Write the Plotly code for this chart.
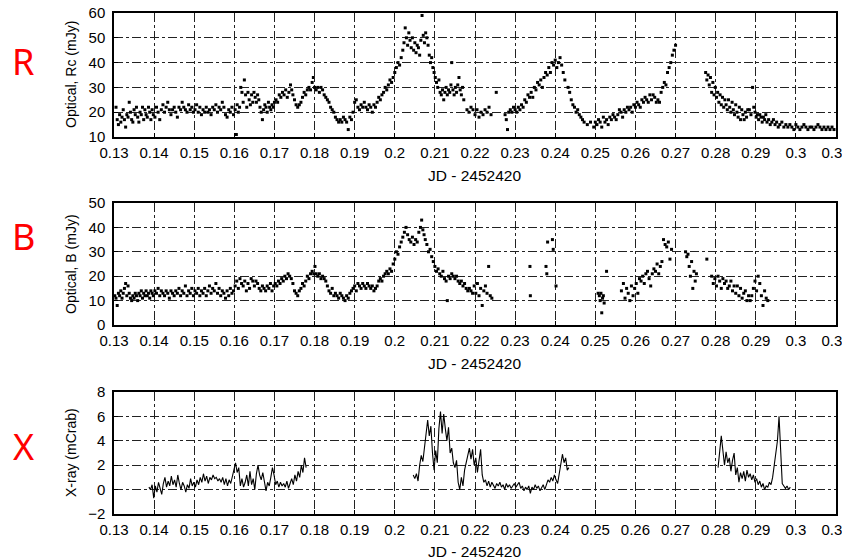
import plotly.graph_objects as go

# ---------------- data ----------------
jd_ticks = [0.13, 0.14, 0.15, 0.16, 0.17, 0.18, 0.19, 0.20, 0.21, 0.22,
            0.23, 0.24, 0.25, 0.26, 0.27, 0.28, 0.29, 0.30, 0.31]
jd_tick_labels = ["0.13", "0.14", "0.15", "0.16", "0.17", "0.18", "0.19", "0.2", "0.21", "0.22",
                  "0.23", "0.24", "0.25", "0.26", "0.27", "0.28", "0.29", "0.3", "0.31"]

r_jd = [0.1305, 0.1308, 0.1311, 0.1314, 0.1317, 0.1320, 0.1323, 0.1326, 0.1329, 0.1332, 0.1335, 0.1338,
        0.1341, 0.1344, 0.1347, 0.1350, 0.1353, 0.1356, 0.1359, 0.1362, 0.1365, 0.1368, 0.1371, 0.1374,
        0.1377, 0.1380, 0.1383, 0.1386, 0.1389, 0.1392, 0.1395, 0.1398,
        0.1402, 0.1406, 0.1410, 0.1414, 0.1418, 0.1422, 0.1426, 0.1430, 0.1434, 0.1438, 0.1442, 0.1446,
        0.1450, 0.1454, 0.1458, 0.1462, 0.1466, 0.1470, 0.1474, 0.1478, 0.1482, 0.1486, 0.1490, 0.1494, 0.1498,
        0.1502, 0.1506, 0.1510, 0.1514, 0.1518, 0.1522, 0.1526, 0.1530, 0.1534, 0.1538, 0.1542, 0.1546,
        0.1550, 0.1554, 0.1558, 0.1562, 0.1566, 0.1570, 0.1574, 0.1578, 0.1582, 0.1586, 0.1590, 0.1594, 0.1598,
        0.1602, 0.1605, 0.1607, 0.1610, 0.1613, 0.1616, 0.1619, 0.1622, 0.1625, 0.1628, 0.1631, 0.1634,
        0.1637, 0.1640, 0.1643, 0.1646, 0.1649, 0.1652, 0.1655, 0.1658, 0.1661, 0.1664, 0.1667, 0.1670,
        0.1673, 0.1676, 0.1679, 0.1682, 0.1685, 0.1688, 0.1691, 0.1694, 0.1697, 0.1700,
        0.1704, 0.1708, 0.1712, 0.1716, 0.1720, 0.1724, 0.1728, 0.1732, 0.1736, 0.1740, 0.1743, 0.1746,
        0.1750, 0.1754, 0.1758, 0.1762, 0.1766, 0.1770, 0.1774, 0.1778, 0.1782, 0.1786, 0.1790, 0.1794, 0.1797, 0.1800,
        0.1804, 0.1808, 0.1812, 0.1816, 0.1820, 0.1824, 0.1828, 0.1832, 0.1836, 0.1840, 0.1844, 0.1848,
        0.1852, 0.1856, 0.1860, 0.1864, 0.1868, 0.1872, 0.1876, 0.1880, 0.1884, 0.1888, 0.1892, 0.1896,
        0.1900, 0.1904, 0.1908, 0.1912, 0.1916, 0.1920, 0.1924, 0.1928, 0.1932, 0.1936, 0.1940, 0.1944,
        0.1948, 0.1952, 0.1956, 0.1960, 0.1964, 0.1968, 0.1972, 0.1976, 0.1980, 0.1984, 0.1988, 0.1992, 0.1996,
        0.2000, 0.2004, 0.2008, 0.2012, 0.2016, 0.2020, 0.2023, 0.2026, 0.2029, 0.2032, 0.2035, 0.2038,
        0.2041, 0.2044, 0.2047, 0.2050, 0.2053, 0.2056, 0.2059, 0.2062, 0.2065, 0.2068, 0.2071, 0.2074,
        0.2077, 0.2080, 0.2083, 0.2086, 0.2089, 0.2092, 0.2095, 0.2098,
        0.2101, 0.2104, 0.2107, 0.2110, 0.2113, 0.2116, 0.2119, 0.2122, 0.2125, 0.2128, 0.2131, 0.2134,
        0.2137, 0.2140, 0.2142, 0.2145, 0.2148, 0.2151, 0.2154, 0.2157, 0.2160, 0.2163, 0.2166, 0.2169, 0.2172,
        0.2180, 0.2185, 0.2190, 0.2195, 0.2200, 0.2205, 0.2210, 0.2215, 0.2220, 0.2225, 0.2230, 0.2235, 0.2240, 0.2253,
        0.2275, 0.2278, 0.2281, 0.2284, 0.2288, 0.2292, 0.2296, 0.2300, 0.2304, 0.2308, 0.2312, 0.2316,
        0.2320, 0.2324, 0.2328, 0.2332, 0.2336, 0.2340, 0.2344, 0.2348, 0.2352, 0.2356, 0.2360, 0.2364,
        0.2368, 0.2372, 0.2376, 0.2380, 0.2384, 0.2388, 0.2392, 0.2396, 0.2400, 0.2404, 0.2408, 0.2412,
        0.2416, 0.2420, 0.2424,
        0.2432, 0.2436, 0.2440, 0.2444, 0.2448, 0.2452, 0.2456, 0.2460, 0.2464, 0.2468, 0.2472, 0.2480,
        0.2488, 0.2496, 0.2500, 0.2504, 0.2508, 0.2512, 0.2516, 0.2520, 0.2524, 0.2528, 0.2532, 0.2536,
        0.2540, 0.2544, 0.2548, 0.2552, 0.2556, 0.2560, 0.2564, 0.2568, 0.2572, 0.2576, 0.2580, 0.2584,
        0.2588, 0.2592, 0.2596, 0.2600, 0.2604, 0.2608, 0.2612, 0.2616, 0.2620, 0.2624, 0.2628, 0.2632,
        0.2636, 0.2640, 0.2644, 0.2648, 0.2652, 0.2656, 0.2660, 0.2664, 0.2668, 0.2672, 0.2676, 0.2680,
        0.2684, 0.2688, 0.2692, 0.2696, 0.2700,
        0.2775, 0.2778, 0.2781, 0.2784, 0.2787, 0.2790, 0.2793, 0.2796, 0.2799, 0.2802, 0.2805, 0.2808,
        0.2811, 0.2814, 0.2817, 0.2820, 0.2823, 0.2826, 0.2829, 0.2832, 0.2835, 0.2838, 0.2841, 0.2844,
        0.2847, 0.2850, 0.2853, 0.2856, 0.2859, 0.2862, 0.2865, 0.2868, 0.2871, 0.2874, 0.2877, 0.2880,
        0.2884, 0.2888, 0.2892, 0.2895, 0.2898, 0.2901, 0.2904, 0.2907, 0.2910, 0.2913, 0.2916, 0.2919,
        0.2922, 0.2925, 0.2928, 0.2932, 0.2936, 0.2940, 0.2944, 0.2948, 0.2952, 0.2956, 0.2960, 0.2965,
        0.2970, 0.2975, 0.2980, 0.2985, 0.2990, 0.2995, 0.3000, 0.3005, 0.3010, 0.3015, 0.3020, 0.3025,
        0.3030, 0.3035, 0.3040, 0.3045, 0.3050, 0.3055, 0.3060, 0.3065, 0.3070, 0.3075, 0.3080, 0.3085,
        0.3090, 0.3095]
r_flux = [22, 17, 15, 19, 16, 18, 21, 17, 14, 19, 18, 24,
          20, 17, 16, 21, 19, 22, 18, 16, 20, 19, 22, 17,
          21, 19, 18, 22, 20, 17, 21, 19,
          18, 22, 20, 17, 21, 23, 20, 22, 24, 21, 19, 21,
          22, 20, 18, 22, 21, 24, 22, 21, 20, 23, 21, 22, 20,
          21, 23, 20, 22, 19, 21, 20, 22, 20, 21, 19, 22,
          21, 23, 20, 22, 21, 24, 22, 19, 18, 21, 20, 22, 19,
          21, 11, 23, 20, 22, 30, 28, 24, 33, 27, 22, 28,
          25, 23, 27, 24, 28, 26, 24, 27, 25, 22, 20, 17,
          21, 23, 22, 20, 24, 22, 21, 23, 22, 24,
          25, 24, 27, 26, 28, 27, 29, 26, 28, 31, 29, 27,
          25, 23, 22, 23, 24, 26, 28, 27, 29, 30, 29, 32, 34, 30,
          29, 30, 28, 30, 29, 27, 26, 25, 24, 22, 21, 20,
          18, 17, 16, 17, 16, 18, 17, 16, 13, 18, 17, 20,
          24, 25, 22, 21, 23, 22, 24, 22, 21, 23, 22, 20,
          23, 22, 24, 26, 25, 27, 28, 30, 29, 31, 33, 32, 34,
          36, 38, 40, 39, 42, 45, 48, 54, 50, 47, 52, 49,
          46, 50, 45, 48, 44, 47, 46, 43, 49, 59, 51, 48,
          52, 50, 47, 43, 40, 42, 38, 36,
          34, 32, 30, 33, 28, 27, 29, 25, 28, 30, 27, 29,
          28, 31, 40, 29, 27, 30, 28, 31, 34, 29, 27, 30, 25,
          21, 20, 22, 21, 19, 21, 18, 20, 19, 21, 20, 22, 19, 28,
          19, 17, 13, 20, 21, 20, 22, 21, 20, 22, 21, 23,
          22, 25, 24, 27, 26, 28, 26, 30, 29, 32, 31, 33,
          30, 34, 36, 35, 38, 36, 40, 39, 41, 38, 40, 42,
          39, 36, 33,
          30, 28, 25, 23, 22, 20, 21, 19, 18, 17, 16, 15,
          16, 14, 16, 15, 17, 16, 14, 18, 16, 17, 15, 18,
          17, 19, 18, 17, 19, 21, 20, 18, 21, 20, 22, 21,
          22, 20, 23, 22, 24, 23, 22, 25, 24, 26, 25, 24,
          27, 25, 27, 26, 24, 25, 24, 28, 30, 32, 31, 36,
          38, 40, 43, 45, 47,
          36, 33, 35, 31, 34, 28, 32, 27, 30, 26, 28, 24,
          27, 23, 26, 22, 25, 23, 21, 25, 22, 20, 24, 21,
          19, 23, 20, 18, 22, 17, 21, 19, 17, 20, 18, 21,
          21, 19, 30, 22, 20, 18, 19, 17, 19, 18, 16, 18,
          17, 19, 16, 17, 15, 16, 17, 15, 16, 14, 15, 16,
          14, 15, 14, 15, 14, 13, 15, 14, 13, 14, 15, 14,
          13, 14, 14, 13, 14, 15, 14, 13, 14, 13, 14, 13,
          14, 13]

b_jd = [0.1302, 0.1305, 0.1308, 0.1311, 0.1314, 0.1317, 0.1320, 0.1323, 0.1326, 0.1329, 0.1332, 0.1335,
        0.1338, 0.1341, 0.1344, 0.1347, 0.1350, 0.1353, 0.1356, 0.1359, 0.1362, 0.1365, 0.1368, 0.1371,
        0.1374, 0.1377, 0.1380, 0.1383, 0.1386, 0.1389, 0.1392, 0.1395, 0.1398,
        0.1402, 0.1406, 0.1410, 0.1414, 0.1418, 0.1422, 0.1426, 0.1430, 0.1434, 0.1438, 0.1442, 0.1446,
        0.1450, 0.1454, 0.1458, 0.1462, 0.1466, 0.1470, 0.1474, 0.1478, 0.1482, 0.1486, 0.1490, 0.1494, 0.1498,
        0.1502, 0.1506, 0.1510, 0.1514, 0.1518, 0.1522, 0.1526, 0.1530, 0.1534, 0.1538, 0.1542, 0.1546,
        0.1550, 0.1554, 0.1558, 0.1562, 0.1566, 0.1570, 0.1574, 0.1578, 0.1582, 0.1586, 0.1590, 0.1594, 0.1598,
        0.1602, 0.1606, 0.1610, 0.1614, 0.1618, 0.1622, 0.1626, 0.1630, 0.1634, 0.1638, 0.1642, 0.1646,
        0.1650, 0.1654, 0.1658, 0.1662, 0.1666, 0.1670, 0.1674, 0.1678, 0.1682, 0.1686, 0.1690, 0.1694, 0.1698,
        0.1702, 0.1706, 0.1710, 0.1714, 0.1718, 0.1722, 0.1726, 0.1730, 0.1734, 0.1738, 0.1742, 0.1746,
        0.1750, 0.1754, 0.1758, 0.1762, 0.1766, 0.1770, 0.1774, 0.1778, 0.1782, 0.1786, 0.1790, 0.1794, 0.1798, 0.1801,
        0.1804, 0.1808, 0.1812, 0.1816, 0.1820, 0.1824, 0.1828, 0.1832, 0.1836, 0.1840, 0.1844, 0.1848,
        0.1852, 0.1856, 0.1860, 0.1864, 0.1868, 0.1872, 0.1876, 0.1880, 0.1884, 0.1888, 0.1892, 0.1896,
        0.1900, 0.1904, 0.1908, 0.1912, 0.1916, 0.1920, 0.1924, 0.1928, 0.1932, 0.1936, 0.1940, 0.1944,
        0.1948, 0.1952, 0.1956, 0.1960, 0.1964, 0.1968, 0.1972, 0.1976, 0.1980, 0.1984, 0.1988, 0.1992, 0.1996,
        0.2000, 0.2004, 0.2008, 0.2012, 0.2016, 0.2020, 0.2024, 0.2028, 0.2032, 0.2036, 0.2040, 0.2044,
        0.2048, 0.2052, 0.2056, 0.2060, 0.2064, 0.2067, 0.2070, 0.2073, 0.2076, 0.2080, 0.2084, 0.2088,
        0.2092, 0.2096,
        0.2100, 0.2104, 0.2108, 0.2112, 0.2116, 0.2120, 0.2124, 0.2128, 0.2131, 0.2134, 0.2138, 0.2142,
        0.2146, 0.2150, 0.2154, 0.2158, 0.2162, 0.2166, 0.2170, 0.2174, 0.2178, 0.2182, 0.2186, 0.2190,
        0.2194, 0.2198,
        0.2202, 0.2206, 0.2210, 0.2214, 0.2218, 0.2222, 0.2226, 0.2230, 0.2234, 0.2238, 0.2242,
        0.2337, 0.2338, 0.2377, 0.2379, 0.2381, 0.2393, 0.2395, 0.2402,
        0.2507, 0.2510, 0.2512, 0.2514, 0.2516, 0.2518, 0.2520, 0.2522, 0.2528,
        0.2565, 0.2570, 0.2574, 0.2578, 0.2582, 0.2586, 0.2590, 0.2594, 0.2598, 0.2602, 0.2606, 0.2610,
        0.2614, 0.2618, 0.2622, 0.2626, 0.2630, 0.2634, 0.2638, 0.2642, 0.2646, 0.2650, 0.2654, 0.2658,
        0.2662, 0.2666, 0.2670, 0.2674, 0.2678, 0.2682, 0.2686, 0.2690,
        0.2725, 0.2728, 0.2731, 0.2734, 0.2737, 0.2740, 0.2743, 0.2746, 0.2749, 0.2752, 0.2778,
        0.2790, 0.2794, 0.2798, 0.2802, 0.2806, 0.2810, 0.2814, 0.2818, 0.2822, 0.2826, 0.2830, 0.2834,
        0.2838, 0.2842, 0.2846, 0.2850, 0.2854, 0.2858, 0.2862, 0.2866, 0.2870, 0.2874, 0.2878, 0.2882,
        0.2886, 0.2890, 0.2894, 0.2898, 0.2902, 0.2906, 0.2910, 0.2914, 0.2918, 0.2922, 0.2926, 0.2930]
b_flux = [12, 11, 8, 13, 12, 14, 11, 13, 15, 17, 12, 16,
          13, 11, 10, 12, 11, 13, 12, 10, 13, 12, 14, 11,
          13, 12, 14, 12, 13, 11, 14, 13, 12,
          14, 13, 15, 12, 14, 13, 12, 14, 13, 11, 14, 13,
          12, 14, 13, 15, 12, 14, 13, 16, 12, 14, 13, 15, 12,
          14, 13, 15, 12, 14, 13, 15, 12, 14, 16, 13, 15,
          14, 17, 13, 15, 12, 14, 13, 11, 14, 12, 15, 13, 14,
          16, 18, 15, 19, 17, 16, 18, 14, 17, 15, 19, 18,
          16, 18, 17, 15, 14, 16, 15, 14, 16, 15, 17, 14, 16,
          17, 16, 18, 17, 19, 18, 20, 19, 21, 20, 19, 17,
          14, 13, 12, 14, 15, 17, 16, 18, 20, 19, 21, 22, 21, 24,
          21, 20, 21, 19, 20, 19, 18, 16, 14, 13, 15, 12,
          13, 12, 11, 13, 12, 11, 10, 12, 11, 13, 14, 15,
          16, 14, 17, 16, 15, 17, 16, 15, 17, 16, 15, 16,
          14, 15, 16, 18, 19, 18, 20, 21, 22, 21, 23, 22, 25,
          27, 30, 29, 32, 34, 36, 38, 40, 37, 35, 34, 36,
          33, 35, 34, 38, 40, 43, 39, 37, 35, 33, 30, 31,
          28, 26,
          24, 22, 23, 21, 20, 22, 19, 18, 10, 20, 19, 21,
          20, 19, 20, 18, 17, 18, 16, 17, 15, 14, 15, 14,
          13, 16,
          13, 17, 12, 15, 8, 14, 16, 13, 24, 12, 11,
          24, 12, 24, 21, 34, 35, 31, 16,
          13, 12, 10, 13, 5, 11, 12, 9, 22,
          14, 17, 11, 15, 13, 10, 16, 12, 15, 17, 13, 19,
          18, 20, 17, 21, 22, 19, 16, 21, 23, 22, 25, 21,
          24, 26, 35, 33, 32, 34, 27, 31,
          30, 28, 29, 24, 20, 26, 15, 22, 18, 21, 27,
          20, 17, 19, 16, 20, 18, 15, 19, 17, 18, 15, 16,
          18, 14, 16, 13, 16, 12, 15, 11, 13, 14, 10, 12,
          10, 12, 15, 18, 14, 20, 17, 12, 8, 14, 11, 10]

# X-ray light curve: three observing windows, each a list of binned rates
xray_bin_days = 0.0004
xray_seg1_start = 0.1387
xray_seg1_rate = [0.2, 0.0, 0.4, -0.7, 0.3, -0.2, 0.6, 0.1, -0.4, 0.5, 1.0, 0.2,
                  0.7, 0.3, 1.1, 0.4, 0.8, 0.2, 1.2, 0.5, 0.0, 0.6, 0.3, -0.2,
                  0.4, 0.1, 0.9, 0.3, 0.6, 0.2, 0.8, 0.4, 1.0, 0.6, 1.3, 0.7,
                  1.1, 0.5, 1.0, 0.8, 1.2, 0.9, 1.0, 0.7, 0.9, 0.6, 1.0, 0.4,
                  0.9, 0.3, 0.8, 0.5, 1.1, 1.6, 2.2, 1.4, 1.8, 0.3, 0.9, 0.2,
                  0.6, 1.2, 0.3, 1.5, 0.4, 0.9, 0.0, 1.3, 2.0, 1.2, 0.8, 1.4,
                  0.5, -0.1, 0.6, 0.3, 1.0, 1.8, 1.2, 0.4, 0.7, 0.2, 0.6, 0.3,
                  0.5, 0.2, 0.7, 0.1, 0.5, 0.9, 0.4, 1.2, 0.7, 1.5, 1.0, 2.0,
                  1.4, 2.6, 1.8]
xray_seg2_start = 0.2046
xray_seg2_rate = [1.2, 0.9, 1.3, 0.7, 2.0, 2.8, 2.3, 3.6, 4.3, 5.7, 4.4, 5.2,
                  3.0, 1.6, 3.2, 2.2, 5.0, 6.4, 4.6, 6.2, 5.0, 4.0, 5.1, 3.0,
                  3.4, 2.2, 1.8, 2.4, 0.6, 0.0, 1.0, 0.3, 1.6, 2.2, 2.8, 3.4,
                  2.5, 3.3, 2.0, 2.6, 1.4, 2.2, 3.3, 1.2, 0.6, 0.8, 0.3, 0.7,
                  0.2, 0.6, 0.4, 0.1, 0.5, 0.3, 0.6, 0.2, 0.4, 0.0, 0.5, 0.2,
                  0.4, 0.1, 0.3, 0.5, 0.2, 0.4, 0.6, 0.1, 0.3, -0.1, 0.2, 0.0,
                  0.3, -0.3, 0.2, 0.0, 0.4, 0.1, 0.3, -0.1, 0.2, 0.4, 0.0, 0.5,
                  0.8, 0.6, 1.0, 0.7, 1.2, 0.8, 0.5, 1.3, 2.0, 2.9, 2.2, 2.6,
                  1.6, 1.8]
xray_seg3_start = 0.2806
xray_seg3_rate = [1.8, 3.0, 4.4, 3.2, 2.0, 3.1, 2.2, 2.6, 1.5, 2.4, 3.0, 1.2,
                  1.8, 0.6, 1.4, 0.9, 1.5, 0.7, 1.6, 1.0, 1.3, 0.8, 1.2, 0.6,
                  0.9, 0.4, 0.7, 0.2, 0.5, 0.0, 0.3, 0.2, 0.6, 0.4, 1.0, 2.0,
                  3.3, 4.0, 6.0, 2.5, 0.5, 0.3, 0.1, 0.3, 0.0, 0.2]

# ---------------- build x-ray arrays (gaps between windows) ----------------
x_jd, x_rate = [], []
for start, rates in [(xray_seg1_start, xray_seg1_rate),
                     (xray_seg2_start, xray_seg2_rate),
                     (xray_seg3_start, xray_seg3_rate)]:
    for i, v in enumerate(rates):
        x_jd.append(round(start + i * xray_bin_days, 5))
        x_rate.append(v)
    x_jd.append(None)
    x_rate.append(None)

# ---------------- figure ----------------
# the page body keeps an 8px margin, so the figure is made 8px smaller
# and every screen position is shifted by that offset
OFF = 8
W, H = 850 - OFF, 560 - OFF
FONT = "Liberation Sans, Arial, sans-serif"

fig = go.Figure()
marker = dict(symbol="square", size=3, color="black", line=dict(width=0))
fig.add_trace(go.Scatter(x=r_jd, y=r_flux, mode="markers", marker=marker,
                         xaxis="x", yaxis="y", showlegend=False))
fig.add_trace(go.Scatter(x=b_jd, y=b_flux, mode="markers", marker=marker,
                         xaxis="x2", yaxis="y2", showlegend=False))
fig.add_trace(go.Scatter(x=x_jd, y=x_rate, mode="lines", line=dict(color="black", width=1.1),
                         connectgaps=False, xaxis="x3", yaxis="y3", showlegend=False))

def px_x(p):
    return (p - OFF) / W

def px_y(p):
    return 1 - (p - OFF) / H

x_dom = [px_x(114), px_x(836)]
panels = [
    ("", [px_y(137), px_y(13)], [10, 60], 10),
    ("2", [px_y(325), px_y(203)], [0, 50], 10),
    ("3", [px_y(514), px_y(392)], [-2, 8], 2),
]
axis_common = dict(
    showline=True, linecolor="black", linewidth=1.5, mirror=True,
    showgrid=True, gridcolor="#222222", gridwidth=1, griddash="dashdot",
    ticks="inside", ticklen=4, tickcolor="black", zeroline=False, automargin=False,
    ticklabeloverflow="allow",
    tickfont=dict(family=FONT, size=15, color="black"),
)
for suf, ydom, yr, dy in panels:
    fig.layout["xaxis" + suf] = dict(
        domain=x_dom, range=[0.13, 0.31], tickvals=jd_ticks, ticktext=jd_tick_labels,
        anchor="y" + suf, ticklabelstandoff=1, **axis_common)
    fig.layout["yaxis" + suf] = dict(
        domain=ydom, range=yr, dtick=dy, tick0=yr[0], anchor="x" + suf,
        ticklabelstandoff=4, **axis_common)

ann = []
for ypx in [175, 363, 551]:
    ann.append(dict(text="JD - 2452420", x=px_x(475), y=px_y(ypx), xref="paper", yref="paper",
                    showarrow=False, font=dict(family=FONT, size=15.5, color="black"),
                    xanchor="center", yanchor="middle"))
for label, ypx in [("Optical, Rc (mJy)", 75), ("Optical, B (mJy)", 264), ("X-ray (mCrab)", 453)]:
    ann.append(dict(text=label, x=px_x(71), y=px_y(ypx), xref="paper", yref="paper",
                    showarrow=False, textangle=-90, font=dict(family=FONT, size=14, color="black"),
                    xanchor="center", yanchor="middle"))
for label, ypx in [("R", 62), ("B", 236), ("X", 446)]:
    ann.append(dict(text=label, x=px_x(23), y=px_y(ypx), xref="paper", yref="paper",
                    showarrow=False, font=dict(family="Noto Sans, Liberation Sans, sans-serif",
                                               size=36, color="#ff0000"),
                    xanchor="center", yanchor="middle"))

fig.update_layout(
    width=W, height=H, margin=dict(l=0, r=0, t=0, b=0),
    paper_bgcolor="white", plot_bgcolor="white",
    annotations=ann, showlegend=False,
)

fig.write_html("out.html")
